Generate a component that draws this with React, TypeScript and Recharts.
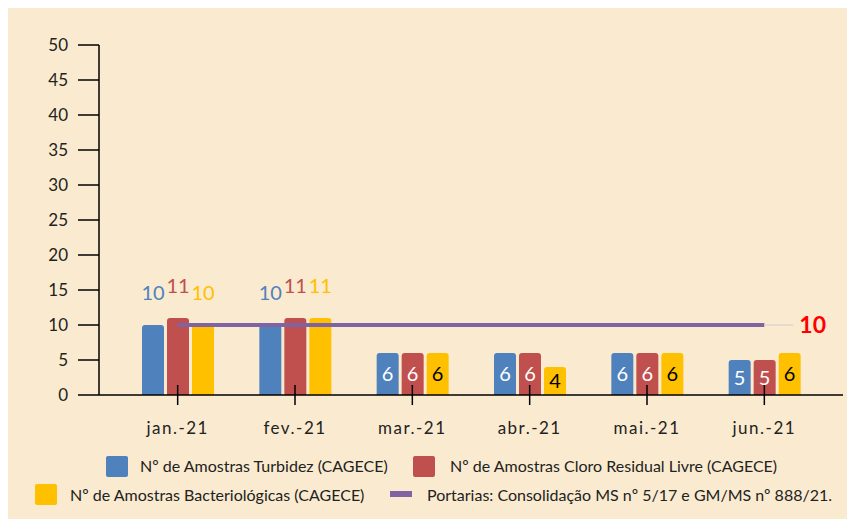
import React from "react";
import { ComposedChart, Bar, Line, XAxis, YAxis, Legend, LabelList } from "recharts";

const months = ["jan.-21", "fev.-21", "mar.-21", "abr.-21", "mai.-21", "jun.-21"];
const turbidez = [10, 10, 6, 6, 6, 5];
const cloro = [11, 11, 6, 6, 6, 5];
const bacterio = [10, 11, 6, 4, 6, 6];
const portaria = [10, 10, 10, 10, 10, 10];
const yTicks = [0, 5, 10, 15, 20, 25, 30, 35, 40, 45, 50];

const BLUE = "#4F81BD";
const RED = "#C0504D";
const YELLOW = "#FFC000";
const PURPLE = "#8064A2";
const BG = "#FAEBD0";
const FONT = "Lato, 'Open Sans', sans-serif";

const data = months.map((m, i) => ({
  month: m,
  turbidez: turbidez[i],
  cloro: cloro[i],
  bacterio: bacterio[i],
  portaria: portaria[i],
}));

// labels: the first two months sit above the bars, the rest inside
const barLabel = (color: string, inside: string) => (props: any) => {
  const { x, y, width, height, value, index } = props;
  const cx = x + width / 2;
  if (index < 2) {
    return (
      <text x={cx} y={y - 25} textAnchor="middle" fill={color} fontSize={20} fontFamily={FONT}>
        {value}
      </text>
    );
  }
  return (
    <text x={cx} y={y + height / 2} dy={7} textAnchor="middle" fill={inside} fontSize={20} fontFamily={FONT}>
      {value}
    </text>
  );
};

const lineLabel = (props: any) => {
  const { x, y, index, value } = props;
  if (index !== portaria.length - 1) return null;
  return (
    <g>
      <line x1={x} y1={y} x2={x + 29} y2={y} stroke="#dcd6cc" strokeWidth={1.5} />
      <text x={x + 35} y={y} dy={8} fill="#FF0000" fontSize={23} fontWeight="bold" fontFamily={FONT}>
        {value}
      </text>
    </g>
  );
};

const MonthTick = (props: any) => {
  const { x, y, payload } = props;
  return (
    <g>
      <line x1={x} y1={y - 10} x2={x} y2={y + 10} stroke="#000" strokeWidth={1.5} />
      <text x={x} y={y + 39} textAnchor="middle" fill="#222" fontSize={17} letterSpacing={1.5} fontFamily={FONT}>
        {payload.value}
      </text>
    </g>
  );
};

const legendText: React.CSSProperties = {
  position: "absolute",
  fontSize: 16,
  fontFamily: FONT,
  color: "#222",
  whiteSpace: "nowrap",
  lineHeight: "20px",
};

const ChartLegend = () => (
  <div style={{ position: "relative", height: 0, width: 847 }}>
    <div style={{ position: "absolute", left: 98, top: 448, width: 22, height: 21, background: BLUE, borderRadius: 2 }} />
    <div style={{ ...legendText, left: 132, top: 448 }}>Nº de Amostras Turbidez (CAGECE)</div>
    <div style={{ position: "absolute", left: 405, top: 448, width: 22, height: 21, background: RED, borderRadius: 2 }} />
    <div style={{ ...legendText, left: 442, top: 448 }}>Nº de Amostras Cloro Residual Livre (CAGECE)</div>
    <div style={{ position: "absolute", left: 27, top: 476, width: 22, height: 21, background: YELLOW, borderRadius: 2 }} />
    <div style={{ ...legendText, left: 62, top: 477 }}>Nº de Amostras Bacteriológicas (CAGECE)</div>
    <div style={{ position: "absolute", left: 382, top: 483, width: 22, height: 6, background: PURPLE }} />
    <div style={{ ...legendText, left: 419, top: 477 }}>Portarias: Consolidação MS nº 5/17 e GM/MS nº 888/21.</div>
  </div>
);

export default function App() {
  return (
    <div style={{ width: 847, height: 519, background: BG, marginBottom: -8 }}>
      <ComposedChart
        width={847}
        height={519}
        data={data}
        margin={{ top: 37, right: 12, bottom: 92, left: 0 }}
        barSize={22}
        barGap={3}
      >
        <XAxis
          dataKey="month"
          height={40}
          padding={{ left: 20, right: 20 }}
          axisLine={{ stroke: "#000", strokeWidth: 1.5 }}
          tickLine={false}
          tickSize={0}
          tickMargin={0}
          tick={<MonthTick />}
          interval={0}
        />
        <YAxis
          width={91}
          domain={[0, 50]}
          ticks={yTicks}
          interval={0}
          axisLine={{ stroke: "#000", strokeWidth: 1.5 }}
          tickLine={{ stroke: "#000", strokeWidth: 1.5 }}
          tickSize={21}
          tickMargin={10}
          tick={{ fill: "#222", fontSize: 17, fontFamily: FONT }}
        />
        <Bar dataKey="turbidez" fill={BLUE} radius={[3, 3, 0, 0]} isAnimationActive={false}>
          <LabelList dataKey="turbidez" content={barLabel(BLUE, "#fff")} />
        </Bar>
        <Bar dataKey="cloro" fill={RED} radius={[3, 3, 0, 0]} isAnimationActive={false}>
          <LabelList dataKey="cloro" content={barLabel(RED, "#fff")} />
        </Bar>
        <Bar dataKey="bacterio" fill={YELLOW} radius={[3, 3, 0, 0]} isAnimationActive={false}>
          <LabelList dataKey="bacterio" content={barLabel(YELLOW, "#000")} />
        </Bar>
        <Line
          dataKey="portaria"
          stroke={PURPLE}
          strokeWidth={4}
          dot={false}
          activeDot={false}
          isAnimationActive={false}
        >
          <LabelList dataKey="portaria" content={lineLabel} />
        </Line>
        <Legend
          content={<ChartLegend />}
          wrapperStyle={{ left: 0, top: 0, width: 847, height: 0 }}
        />
      </ComposedChart>
    </div>
  );
}
